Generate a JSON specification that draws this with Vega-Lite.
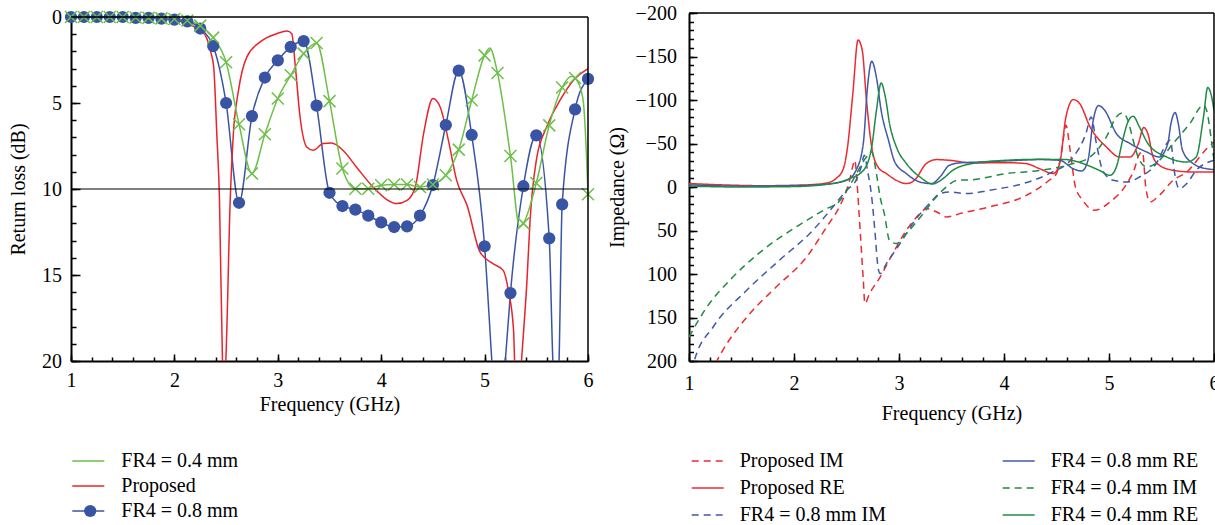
{
  "$schema": "https://vega.github.io/schema/vega-lite/v6.json",
  "background": "white",
  "padding": {"left": 8, "top": 3, "right": 0, "bottom": 0},
  "config": {
    "font": "Liberation Serif",
    "view": {"stroke": null},
    "axis": {"labelFont": "Liberation Serif", "titleFont": "Liberation Serif", "labelFontSize": 20, "titleFontSize": 20, "titleFontWeight": "normal", "labelColor": "black", "titleColor": "black", "domainColor": "black", "domainWidth": 2, "tickColor": "black", "tickWidth": 1.5, "grid": false, "labelFlush": false, "labelOverlap": false},
    "legend": {"labelFont": "Liberation Serif", "labelFontSize": 20, "labelColor": "black", "padding": 0}
  },
  "datasets": {
    "leftLines": [
      {"f":1.0,"v":0,"s":"FR4 = 0.8 mm"},{"f":1.125,"v":0,"s":"FR4 = 0.8 mm"},{"f":1.25,"v":0,"s":"FR4 = 0.8 mm"},{"f":1.375,"v":0,"s":"FR4 = 0.8 mm"},{"f":1.5,"v":0,"s":"FR4 = 0.8 mm"},{"f":1.625,"v":0.05,"s":"FR4 = 0.8 mm"},{"f":1.75,"v":0.05,"s":"FR4 = 0.8 mm"},{"f":1.875,"v":0.1,"s":"FR4 = 0.8 mm"},{"f":2.0,"v":0.15,"s":"FR4 = 0.8 mm"},{"f":2.125,"v":0.25,"s":"FR4 = 0.8 mm"},{"f":2.25,"v":0.67,"s":"FR4 = 0.8 mm"},{"f":2.375,"v":1.69,"s":"FR4 = 0.8 mm"},{"f":2.5,"v":5.0,"s":"FR4 = 0.8 mm"},{"f":2.625,"v":10.8,"s":"FR4 = 0.8 mm"},{"f":2.75,"v":5.76,"s":"FR4 = 0.8 mm"},{"f":2.875,"v":3.52,"s":"FR4 = 0.8 mm"},{"f":3.0,"v":2.52,"s":"FR4 = 0.8 mm"},{"f":3.125,"v":1.74,"s":"FR4 = 0.8 mm"},{"f":3.25,"v":1.4,"s":"FR4 = 0.8 mm"},{"f":3.375,"v":5.15,"s":"FR4 = 0.8 mm"},{"f":3.5,"v":10.22,"s":"FR4 = 0.8 mm"},{"f":3.625,"v":10.99,"s":"FR4 = 0.8 mm"},{"f":3.75,"v":11.2,"s":"FR4 = 0.8 mm"},{"f":3.875,"v":11.55,"s":"FR4 = 0.8 mm"},{"f":4.0,"v":11.94,"s":"FR4 = 0.8 mm"},{"f":4.125,"v":12.21,"s":"FR4 = 0.8 mm"},{"f":4.25,"v":12.17,"s":"FR4 = 0.8 mm"},{"f":4.375,"v":11.55,"s":"FR4 = 0.8 mm"},{"f":4.5,"v":9.77,"s":"FR4 = 0.8 mm"},{"f":4.625,"v":6.28,"s":"FR4 = 0.8 mm"},{"f":4.75,"v":3.12,"s":"FR4 = 0.8 mm"},{"f":4.875,"v":6.86,"s":"FR4 = 0.8 mm"},{"f":5.0,"v":13.33,"s":"FR4 = 0.8 mm"},{"f":5.07,"v":20,"s":"FR4 = 0.8 mm"},{"f":5.135,"v":26,"s":"FR4 = 0.8 mm"},{"f":5.2,"v":20,"s":"FR4 = 0.8 mm"},{"f":5.25,"v":16.05,"s":"FR4 = 0.8 mm"},{"f":5.375,"v":9.84,"s":"FR4 = 0.8 mm"},{"f":5.5,"v":6.88,"s":"FR4 = 0.8 mm"},{"f":5.625,"v":12.87,"s":"FR4 = 0.8 mm"},{"f":5.66,"v":20,"s":"FR4 = 0.8 mm"},{"f":5.69,"v":23,"s":"FR4 = 0.8 mm"},{"f":5.72,"v":20,"s":"FR4 = 0.8 mm"},{"f":5.75,"v":10.89,"s":"FR4 = 0.8 mm"},{"f":5.875,"v":5.37,"s":"FR4 = 0.8 mm"},{"f":6.0,"v":3.6,"s":"FR4 = 0.8 mm"},
      {"f":1.0,"v":0,"s":"Proposed"},{"f":1.5,"v":0,"s":"Proposed"},{"f":1.8,"v":0.05,"s":"Proposed"},{"f":2.0,"v":0.15,"s":"Proposed"},{"f":2.12,"v":0.4,"s":"Proposed"},{"f":2.25,"v":0.77,"s":"Proposed"},{"f":2.31,"v":1.2,"s":"Proposed"},{"f":2.35,"v":2.0,"s":"Proposed"},{"f":2.38,"v":2.9,"s":"Proposed"},{"f":2.41,"v":6.8,"s":"Proposed"},{"f":2.436,"v":10.6,"s":"Proposed"},{"f":2.465,"v":20,"s":"Proposed"},{"f":2.481,"v":21.5,"s":"Proposed"},{"f":2.497,"v":20,"s":"Proposed"},{"f":2.54,"v":10.6,"s":"Proposed"},{"f":2.57,"v":6.8,"s":"Proposed"},{"f":2.62,"v":4.26,"s":"Proposed"},{"f":2.7,"v":2.33,"s":"Proposed"},{"f":2.83,"v":1.45,"s":"Proposed"},{"f":2.99,"v":0.97,"s":"Proposed"},{"f":3.09,"v":0.81,"s":"Proposed"},{"f":3.135,"v":0.97,"s":"Proposed"},{"f":3.17,"v":2.9,"s":"Proposed"},{"f":3.215,"v":5.8,"s":"Proposed"},{"f":3.28,"v":7.56,"s":"Proposed"},{"f":3.34,"v":7.75,"s":"Proposed"},{"f":3.44,"v":7.36,"s":"Proposed"},{"f":3.52,"v":7.33,"s":"Proposed"},{"f":3.63,"v":7.75,"s":"Proposed"},{"f":3.76,"v":8.72,"s":"Proposed"},{"f":3.92,"v":9.88,"s":"Proposed"},{"f":4.05,"v":10.6,"s":"Proposed"},{"f":4.15,"v":10.85,"s":"Proposed"},{"f":4.25,"v":10.66,"s":"Proposed"},{"f":4.33,"v":9.88,"s":"Proposed"},{"f":4.41,"v":6.78,"s":"Proposed"},{"f":4.5,"v":4.74,"s":"Proposed"},{"f":4.57,"v":5.23,"s":"Proposed"},{"f":4.65,"v":7.17,"s":"Proposed"},{"f":4.73,"v":9.5,"s":"Proposed"},{"f":4.83,"v":10.95,"s":"Proposed"},{"f":4.955,"v":13.66,"s":"Proposed"},{"f":5.08,"v":14.34,"s":"Proposed"},{"f":5.18,"v":14.73,"s":"Proposed"},{"f":5.23,"v":15.9,"s":"Proposed"},{"f":5.28,"v":18.2,"s":"Proposed"},{"f":5.29,"v":20,"s":"Proposed"},{"f":5.325,"v":23,"s":"Proposed"},{"f":5.357,"v":20,"s":"Proposed"},{"f":5.41,"v":15.3,"s":"Proposed"},{"f":5.44,"v":11.8,"s":"Proposed"},{"f":5.5,"v":8.33,"s":"Proposed"},{"f":5.6,"v":6.4,"s":"Proposed"},{"f":5.73,"v":4.84,"s":"Proposed"},{"f":5.86,"v":3.68,"s":"Proposed"},{"f":6.0,"v":3.0,"s":"Proposed"},
      {"f":1.0,"v":0,"s":"FR4 = 0.4 mm"},{"f":1.125,"v":0,"s":"FR4 = 0.4 mm"},{"f":1.25,"v":0,"s":"FR4 = 0.4 mm"},{"f":1.375,"v":0,"s":"FR4 = 0.4 mm"},{"f":1.5,"v":0,"s":"FR4 = 0.4 mm"},{"f":1.625,"v":0.03,"s":"FR4 = 0.4 mm"},{"f":1.75,"v":0.05,"s":"FR4 = 0.4 mm"},{"f":1.875,"v":0.08,"s":"FR4 = 0.4 mm"},{"f":2.0,"v":0.12,"s":"FR4 = 0.4 mm"},{"f":2.125,"v":0.2,"s":"FR4 = 0.4 mm"},{"f":2.25,"v":0.5,"s":"FR4 = 0.4 mm"},{"f":2.375,"v":1.2,"s":"FR4 = 0.4 mm"},{"f":2.5,"v":2.63,"s":"FR4 = 0.4 mm"},{"f":2.625,"v":6.24,"s":"FR4 = 0.4 mm"},{"f":2.75,"v":9.1,"s":"FR4 = 0.4 mm"},{"f":2.875,"v":6.82,"s":"FR4 = 0.4 mm"},{"f":3.0,"v":4.74,"s":"FR4 = 0.4 mm"},{"f":3.125,"v":3.39,"s":"FR4 = 0.4 mm"},{"f":3.25,"v":2.13,"s":"FR4 = 0.4 mm"},{"f":3.375,"v":1.51,"s":"FR4 = 0.4 mm"},{"f":3.5,"v":4.89,"s":"FR4 = 0.4 mm"},{"f":3.625,"v":8.81,"s":"FR4 = 0.4 mm"},{"f":3.75,"v":9.98,"s":"FR4 = 0.4 mm"},{"f":3.875,"v":9.98,"s":"FR4 = 0.4 mm"},{"f":4.0,"v":9.78,"s":"FR4 = 0.4 mm"},{"f":4.125,"v":9.74,"s":"FR4 = 0.4 mm"},{"f":4.25,"v":9.74,"s":"FR4 = 0.4 mm"},{"f":4.375,"v":9.88,"s":"FR4 = 0.4 mm"},{"f":4.5,"v":9.74,"s":"FR4 = 0.4 mm"},{"f":4.625,"v":9.2,"s":"FR4 = 0.4 mm"},{"f":4.75,"v":7.71,"s":"FR4 = 0.4 mm"},{"f":4.875,"v":4.84,"s":"FR4 = 0.4 mm"},{"f":5.0,"v":2.23,"s":"FR4 = 0.4 mm"},{"f":5.05,"v":1.8,"s":"FR4 = 0.4 mm"},{"f":5.125,"v":3.26,"s":"FR4 = 0.4 mm"},{"f":5.25,"v":8.08,"s":"FR4 = 0.4 mm"},{"f":5.34,"v":12.2,"s":"FR4 = 0.4 mm"},{"f":5.375,"v":12.0,"s":"FR4 = 0.4 mm"},{"f":5.5,"v":9.65,"s":"FR4 = 0.4 mm"},{"f":5.625,"v":6.3,"s":"FR4 = 0.4 mm"},{"f":5.75,"v":4.1,"s":"FR4 = 0.4 mm"},{"f":5.84,"v":3.45,"s":"FR4 = 0.4 mm"},{"f":5.875,"v":3.55,"s":"FR4 = 0.4 mm"},{"f":5.95,"v":4.7,"s":"FR4 = 0.4 mm"},{"f":5.985,"v":8.0,"s":"FR4 = 0.4 mm"},{"f":6.0,"v":10.3,"s":"FR4 = 0.4 mm"}
    ],
    "blueMarkers": [
      {"f":1.0,"v":0},{"f":1.125,"v":0},{"f":1.25,"v":0},{"f":1.375,"v":0},{"f":1.5,"v":0},{"f":1.625,"v":0.05},{"f":1.75,"v":0.05},{"f":1.875,"v":0.1},{"f":2.0,"v":0.15},{"f":2.125,"v":0.25},{"f":2.25,"v":0.67},{"f":2.375,"v":1.69},{"f":2.5,"v":5.0},{"f":2.625,"v":10.8},{"f":2.75,"v":5.76},{"f":2.875,"v":3.52},{"f":3.0,"v":2.52},{"f":3.125,"v":1.74},{"f":3.25,"v":1.4},{"f":3.375,"v":5.15},{"f":3.5,"v":10.22},{"f":3.625,"v":10.99},{"f":3.75,"v":11.2},{"f":3.875,"v":11.55},{"f":4.0,"v":11.94},{"f":4.125,"v":12.21},{"f":4.25,"v":12.17},{"f":4.375,"v":11.55},{"f":4.5,"v":9.77},{"f":4.625,"v":6.28},{"f":4.75,"v":3.12},{"f":4.875,"v":6.86},{"f":5.0,"v":13.33},{"f":5.25,"v":16.05},{"f":5.375,"v":9.84},{"f":5.5,"v":6.88},{"f":5.625,"v":12.87},{"f":5.75,"v":10.89},{"f":5.875,"v":5.37},{"f":6.0,"v":3.6}
    ],
    "greenMarkers": [
      {"f":1.0,"v":0},{"f":1.125,"v":0},{"f":1.25,"v":0},{"f":1.375,"v":0},{"f":1.5,"v":0},{"f":1.625,"v":0.03},{"f":1.75,"v":0.05},{"f":1.875,"v":0.08},{"f":2.0,"v":0.12},{"f":2.125,"v":0.2},{"f":2.25,"v":0.5},{"f":2.375,"v":1.2},{"f":2.5,"v":2.63},{"f":2.625,"v":6.24},{"f":2.75,"v":9.1},{"f":2.875,"v":6.82},{"f":3.0,"v":4.74},{"f":3.125,"v":3.39},{"f":3.25,"v":2.13},{"f":3.375,"v":1.51},{"f":3.5,"v":4.89},{"f":3.625,"v":8.81},{"f":3.75,"v":9.98},{"f":3.875,"v":9.98},{"f":4.0,"v":9.78},{"f":4.125,"v":9.74},{"f":4.25,"v":9.74},{"f":4.375,"v":9.88},{"f":4.5,"v":9.74},{"f":4.625,"v":9.2},{"f":4.75,"v":7.71},{"f":4.875,"v":4.84},{"f":5.0,"v":2.23},{"f":5.125,"v":3.26},{"f":5.25,"v":8.08},{"f":5.375,"v":12.0},{"f":5.5,"v":9.65},{"f":5.625,"v":6.3},{"f":5.75,"v":4.1},{"f":5.875,"v":3.55},{"f":6.0,"v":10.3}
    ],
    "rightLines": [
      {"f":1.2,"v":215,"s":"Proposed IM"},{"f":1.32,"v":188,"s":"Proposed IM"},{"f":1.58,"v":145.5,"s":"Proposed IM"},{"f":1.83,"v":115,"s":"Proposed IM"},{"f":2.12,"v":80.5,"s":"Proposed IM"},{"f":2.31,"v":46,"s":"Proposed IM"},{"f":2.44,"v":21,"s":"Proposed IM"},{"f":2.5,"v":3.8,"s":"Proposed IM"},{"f":2.53,"v":-7.7,"s":"Proposed IM"},{"f":2.56,"v":-24,"s":"Proposed IM"},{"f":2.58,"v":-30.7,"s":"Proposed IM"},{"f":2.6,"v":-5,"s":"Proposed IM"},{"f":2.63,"v":49.8,"s":"Proposed IM"},{"f":2.66,"v":107,"s":"Proposed IM"},{"f":2.675,"v":134,"s":"Proposed IM"},{"f":2.72,"v":122.5,"s":"Proposed IM"},{"f":2.82,"v":103.5,"s":"Proposed IM"},{"f":2.94,"v":76.6,"s":"Proposed IM"},{"f":3.07,"v":49.8,"s":"Proposed IM"},{"f":3.2,"v":30.6,"s":"Proposed IM"},{"f":3.26,"v":24.8,"s":"Proposed IM"},{"f":3.36,"v":28.7,"s":"Proposed IM"},{"f":3.45,"v":34.5,"s":"Proposed IM"},{"f":3.6,"v":30,"s":"Proposed IM"},{"f":3.86,"v":23,"s":"Proposed IM"},{"f":4.18,"v":11.5,"s":"Proposed IM"},{"f":4.43,"v":-7.7,"s":"Proposed IM"},{"f":4.5,"v":-15.4,"s":"Proposed IM"},{"f":4.55,"v":-42,"s":"Proposed IM"},{"f":4.59,"v":-70.9,"s":"Proposed IM"},{"f":4.63,"v":-42,"s":"Proposed IM"},{"f":4.68,"v":0,"s":"Proposed IM"},{"f":4.75,"v":15.3,"s":"Proposed IM"},{"f":4.86,"v":26.8,"s":"Proposed IM"},{"f":5.01,"v":17.2,"s":"Proposed IM"},{"f":5.17,"v":-3.9,"s":"Proposed IM"},{"f":5.24,"v":-20,"s":"Proposed IM"},{"f":5.29,"v":-38,"s":"Proposed IM"},{"f":5.32,"v":-40,"s":"Proposed IM"},{"f":5.35,"v":0,"s":"Proposed IM"},{"f":5.39,"v":17.2,"s":"Proposed IM"},{"f":5.48,"v":9.5,"s":"Proposed IM"},{"f":5.61,"v":-7.7,"s":"Proposed IM"},{"f":5.74,"v":-17.2,"s":"Proposed IM"},{"f":5.93,"v":-44,"s":"Proposed IM"},{"f":6.0,"v":-51.7,"s":"Proposed IM"},
      {"f":1.0,"v":-4,"s":"Proposed RE"},{"f":1.3,"v":-2.5,"s":"Proposed RE"},{"f":1.7,"v":-1.5,"s":"Proposed RE"},{"f":2.0,"v":-2,"s":"Proposed RE"},{"f":2.2,"v":-3,"s":"Proposed RE"},{"f":2.31,"v":-4.6,"s":"Proposed RE"},{"f":2.4,"v":-9.7,"s":"Proposed RE"},{"f":2.47,"v":-21,"s":"Proposed RE"},{"f":2.51,"v":-46,"s":"Proposed RE"},{"f":2.56,"v":-107,"s":"Proposed RE"},{"f":2.61,"v":-169,"s":"Proposed RE"},{"f":2.65,"v":-157,"s":"Proposed RE"},{"f":2.69,"v":-100,"s":"Proposed RE"},{"f":2.74,"v":-46,"s":"Proposed RE"},{"f":2.8,"v":-23,"s":"Proposed RE"},{"f":2.88,"v":-15.4,"s":"Proposed RE"},{"f":2.975,"v":-7.7,"s":"Proposed RE"},{"f":3.07,"v":-3.9,"s":"Proposed RE"},{"f":3.15,"v":-8,"s":"Proposed RE"},{"f":3.26,"v":-27,"s":"Proposed RE"},{"f":3.36,"v":-31.5,"s":"Proposed RE"},{"f":3.48,"v":-30.7,"s":"Proposed RE"},{"f":3.7,"v":-27.6,"s":"Proposed RE"},{"f":4.02,"v":-28,"s":"Proposed RE"},{"f":4.21,"v":-26.9,"s":"Proposed RE"},{"f":4.34,"v":-21,"s":"Proposed RE"},{"f":4.47,"v":-15.4,"s":"Proposed RE"},{"f":4.53,"v":-27,"s":"Proposed RE"},{"f":4.59,"v":-80.5,"s":"Proposed RE"},{"f":4.66,"v":-100.5,"s":"Proposed RE"},{"f":4.72,"v":-96,"s":"Proposed RE"},{"f":4.82,"v":-69,"s":"Proposed RE"},{"f":4.975,"v":-46,"s":"Proposed RE"},{"f":5.1,"v":-34.5,"s":"Proposed RE"},{"f":5.2,"v":-34.5,"s":"Proposed RE"},{"f":5.28,"v":-50,"s":"Proposed RE"},{"f":5.33,"v":-68.3,"s":"Proposed RE"},{"f":5.37,"v":-61.4,"s":"Proposed RE"},{"f":5.42,"v":-34.5,"s":"Proposed RE"},{"f":5.48,"v":-25,"s":"Proposed RE"},{"f":5.61,"v":-19.2,"s":"Proposed RE"},{"f":5.8,"v":-17.2,"s":"Proposed RE"},{"f":6.0,"v":-17.2,"s":"Proposed RE"},
      {"f":1.0,"v":225,"s":"FR4 = 0.8 mm IM"},{"f":1.05,"v":200,"s":"FR4 = 0.8 mm IM"},{"f":1.23,"v":160.9,"s":"FR4 = 0.8 mm IM"},{"f":1.55,"v":118.7,"s":"FR4 = 0.8 mm IM"},{"f":1.86,"v":84.3,"s":"FR4 = 0.8 mm IM"},{"f":2.18,"v":49.8,"s":"FR4 = 0.8 mm IM"},{"f":2.37,"v":23,"s":"FR4 = 0.8 mm IM"},{"f":2.5,"v":3.8,"s":"FR4 = 0.8 mm IM"},{"f":2.59,"v":-7.7,"s":"FR4 = 0.8 mm IM"},{"f":2.64,"v":-23,"s":"FR4 = 0.8 mm IM"},{"f":2.67,"v":-36.4,"s":"FR4 = 0.8 mm IM"},{"f":2.7,"v":-19,"s":"FR4 = 0.8 mm IM"},{"f":2.74,"v":11.5,"s":"FR4 = 0.8 mm IM"},{"f":2.77,"v":49.8,"s":"FR4 = 0.8 mm IM"},{"f":2.8,"v":92,"s":"FR4 = 0.8 mm IM"},{"f":2.82,"v":99.5,"s":"FR4 = 0.8 mm IM"},{"f":2.88,"v":88,"s":"FR4 = 0.8 mm IM"},{"f":3.01,"v":65,"s":"FR4 = 0.8 mm IM"},{"f":3.13,"v":42,"s":"FR4 = 0.8 mm IM"},{"f":3.29,"v":19,"s":"FR4 = 0.8 mm IM"},{"f":3.39,"v":7.6,"s":"FR4 = 0.8 mm IM"},{"f":3.48,"v":5.7,"s":"FR4 = 0.8 mm IM"},{"f":3.64,"v":7.6,"s":"FR4 = 0.8 mm IM"},{"f":3.86,"v":3.8,"s":"FR4 = 0.8 mm IM"},{"f":4.18,"v":-3.9,"s":"FR4 = 0.8 mm IM"},{"f":4.43,"v":-15.4,"s":"FR4 = 0.8 mm IM"},{"f":4.66,"v":-34.5,"s":"FR4 = 0.8 mm IM"},{"f":4.78,"v":-61.4,"s":"FR4 = 0.8 mm IM"},{"f":4.83,"v":-80.5,"s":"FR4 = 0.8 mm IM"},{"f":4.88,"v":-50,"s":"FR4 = 0.8 mm IM"},{"f":4.94,"v":-19,"s":"FR4 = 0.8 mm IM"},{"f":5.04,"v":-7.7,"s":"FR4 = 0.8 mm IM"},{"f":5.17,"v":-5.7,"s":"FR4 = 0.8 mm IM"},{"f":5.29,"v":-11.5,"s":"FR4 = 0.8 mm IM"},{"f":5.45,"v":-27,"s":"FR4 = 0.8 mm IM"},{"f":5.55,"v":-50,"s":"FR4 = 0.8 mm IM"},{"f":5.585,"v":-54,"s":"FR4 = 0.8 mm IM"},{"f":5.62,"v":-20,"s":"FR4 = 0.8 mm IM"},{"f":5.645,"v":-3.9,"s":"FR4 = 0.8 mm IM"},{"f":5.67,"v":1.9,"s":"FR4 = 0.8 mm IM"},{"f":5.74,"v":-3.9,"s":"FR4 = 0.8 mm IM"},{"f":5.83,"v":-19,"s":"FR4 = 0.8 mm IM"},{"f":6.0,"v":-30.7,"s":"FR4 = 0.8 mm IM"},
      {"f":1.0,"v":-2.5,"s":"FR4 = 0.8 mm RE"},{"f":1.5,"v":-1,"s":"FR4 = 0.8 mm RE"},{"f":2.0,"v":-1.5,"s":"FR4 = 0.8 mm RE"},{"f":2.3,"v":-3,"s":"FR4 = 0.8 mm RE"},{"f":2.5,"v":-7.7,"s":"FR4 = 0.8 mm RE"},{"f":2.59,"v":-19,"s":"FR4 = 0.8 mm RE"},{"f":2.66,"v":-50,"s":"FR4 = 0.8 mm RE"},{"f":2.7,"v":-115,"s":"FR4 = 0.8 mm RE"},{"f":2.74,"v":-144.5,"s":"FR4 = 0.8 mm RE"},{"f":2.785,"v":-126,"s":"FR4 = 0.8 mm RE"},{"f":2.83,"v":-88,"s":"FR4 = 0.8 mm RE"},{"f":2.9,"v":-53.7,"s":"FR4 = 0.8 mm RE"},{"f":2.96,"v":-28.7,"s":"FR4 = 0.8 mm RE"},{"f":3.07,"v":-15.4,"s":"FR4 = 0.8 mm RE"},{"f":3.2,"v":-5.7,"s":"FR4 = 0.8 mm RE"},{"f":3.31,"v":-3.9,"s":"FR4 = 0.8 mm RE"},{"f":3.39,"v":-11.5,"s":"FR4 = 0.8 mm RE"},{"f":3.48,"v":-25,"s":"FR4 = 0.8 mm RE"},{"f":3.6,"v":-28,"s":"FR4 = 0.8 mm RE"},{"f":3.7,"v":-28.4,"s":"FR4 = 0.8 mm RE"},{"f":4.02,"v":-30,"s":"FR4 = 0.8 mm RE"},{"f":4.34,"v":-31.5,"s":"FR4 = 0.8 mm RE"},{"f":4.53,"v":-30.7,"s":"FR4 = 0.8 mm RE"},{"f":4.66,"v":-21,"s":"FR4 = 0.8 mm RE"},{"f":4.74,"v":-18.4,"s":"FR4 = 0.8 mm RE"},{"f":4.8,"v":-30.7,"s":"FR4 = 0.8 mm RE"},{"f":4.85,"v":-76.7,"s":"FR4 = 0.8 mm RE"},{"f":4.9,"v":-93.6,"s":"FR4 = 0.8 mm RE"},{"f":4.96,"v":-88,"s":"FR4 = 0.8 mm RE"},{"f":5.07,"v":-61.4,"s":"FR4 = 0.8 mm RE"},{"f":5.2,"v":-50,"s":"FR4 = 0.8 mm RE"},{"f":5.36,"v":-40.2,"s":"FR4 = 0.8 mm RE"},{"f":5.48,"v":-34.5,"s":"FR4 = 0.8 mm RE"},{"f":5.56,"v":-50,"s":"FR4 = 0.8 mm RE"},{"f":5.59,"v":-72.9,"s":"FR4 = 0.8 mm RE"},{"f":5.63,"v":-85.5,"s":"FR4 = 0.8 mm RE"},{"f":5.66,"v":-72.9,"s":"FR4 = 0.8 mm RE"},{"f":5.7,"v":-42.2,"s":"FR4 = 0.8 mm RE"},{"f":5.8,"v":-27,"s":"FR4 = 0.8 mm RE"},{"f":5.93,"v":-21,"s":"FR4 = 0.8 mm RE"},{"f":6.0,"v":-20,"s":"FR4 = 0.8 mm RE"},
      {"f":1.0,"v":172.4,"s":"FR4 = 0.4 mm IM"},{"f":1.17,"v":138,"s":"FR4 = 0.4 mm IM"},{"f":1.39,"v":107,"s":"FR4 = 0.4 mm IM"},{"f":1.7,"v":72.8,"s":"FR4 = 0.4 mm IM"},{"f":2.02,"v":46,"s":"FR4 = 0.4 mm IM"},{"f":2.28,"v":26.8,"s":"FR4 = 0.4 mm IM"},{"f":2.44,"v":15.3,"s":"FR4 = 0.4 mm IM"},{"f":2.56,"v":-7.7,"s":"FR4 = 0.4 mm IM"},{"f":2.69,"v":-34.5,"s":"FR4 = 0.4 mm IM"},{"f":2.74,"v":-40.2,"s":"FR4 = 0.4 mm IM"},{"f":2.785,"v":-15.4,"s":"FR4 = 0.4 mm IM"},{"f":2.82,"v":11.5,"s":"FR4 = 0.4 mm IM"},{"f":2.86,"v":30.6,"s":"FR4 = 0.4 mm IM"},{"f":2.91,"v":61.3,"s":"FR4 = 0.4 mm IM"},{"f":2.975,"v":65,"s":"FR4 = 0.4 mm IM"},{"f":3.07,"v":53.6,"s":"FR4 = 0.4 mm IM"},{"f":3.23,"v":30.6,"s":"FR4 = 0.4 mm IM"},{"f":3.35,"v":12,"s":"FR4 = 0.4 mm IM"},{"f":3.45,"v":0,"s":"FR4 = 0.4 mm IM"},{"f":3.55,"v":-7.7,"s":"FR4 = 0.4 mm IM"},{"f":3.7,"v":-8.4,"s":"FR4 = 0.4 mm IM"},{"f":4.02,"v":-15.4,"s":"FR4 = 0.4 mm IM"},{"f":4.34,"v":-19,"s":"FR4 = 0.4 mm IM"},{"f":4.66,"v":-27,"s":"FR4 = 0.4 mm IM"},{"f":4.82,"v":-34.5,"s":"FR4 = 0.4 mm IM"},{"f":4.975,"v":-57.5,"s":"FR4 = 0.4 mm IM"},{"f":5.07,"v":-80.5,"s":"FR4 = 0.4 mm IM"},{"f":5.13,"v":-85,"s":"FR4 = 0.4 mm IM"},{"f":5.18,"v":-76.7,"s":"FR4 = 0.4 mm IM"},{"f":5.23,"v":-53.7,"s":"FR4 = 0.4 mm IM"},{"f":5.29,"v":-30.7,"s":"FR4 = 0.4 mm IM"},{"f":5.36,"v":-23,"s":"FR4 = 0.4 mm IM"},{"f":5.48,"v":-30.7,"s":"FR4 = 0.4 mm IM"},{"f":5.61,"v":-50,"s":"FR4 = 0.4 mm IM"},{"f":5.77,"v":-72.9,"s":"FR4 = 0.4 mm IM"},{"f":5.9,"v":-94,"s":"FR4 = 0.4 mm IM"},{"f":5.93,"v":-88,"s":"FR4 = 0.4 mm IM"},{"f":5.975,"v":-53.7,"s":"FR4 = 0.4 mm IM"},{"f":6.0,"v":-30.7,"s":"FR4 = 0.4 mm IM"},
      {"f":1.0,"v":-1,"s":"FR4 = 0.4 mm RE"},{"f":1.5,"v":0,"s":"FR4 = 0.4 mm RE"},{"f":2.0,"v":-0.5,"s":"FR4 = 0.4 mm RE"},{"f":2.3,"v":-3,"s":"FR4 = 0.4 mm RE"},{"f":2.53,"v":-9.7,"s":"FR4 = 0.4 mm RE"},{"f":2.66,"v":-19,"s":"FR4 = 0.4 mm RE"},{"f":2.74,"v":-46,"s":"FR4 = 0.4 mm RE"},{"f":2.785,"v":-88,"s":"FR4 = 0.4 mm RE"},{"f":2.83,"v":-119.5,"s":"FR4 = 0.4 mm RE"},{"f":2.87,"v":-103.4,"s":"FR4 = 0.4 mm RE"},{"f":2.91,"v":-72.9,"s":"FR4 = 0.4 mm RE"},{"f":2.975,"v":-46,"s":"FR4 = 0.4 mm RE"},{"f":3.07,"v":-27,"s":"FR4 = 0.4 mm RE"},{"f":3.2,"v":-11.5,"s":"FR4 = 0.4 mm RE"},{"f":3.32,"v":-3.5,"s":"FR4 = 0.4 mm RE"},{"f":3.42,"v":-9.7,"s":"FR4 = 0.4 mm RE"},{"f":3.51,"v":-19,"s":"FR4 = 0.4 mm RE"},{"f":3.7,"v":-27,"s":"FR4 = 0.4 mm RE"},{"f":4.02,"v":-30.7,"s":"FR4 = 0.4 mm RE"},{"f":4.34,"v":-31.8,"s":"FR4 = 0.4 mm RE"},{"f":4.59,"v":-31.5,"s":"FR4 = 0.4 mm RE"},{"f":4.75,"v":-27,"s":"FR4 = 0.4 mm RE"},{"f":4.91,"v":-19,"s":"FR4 = 0.4 mm RE"},{"f":5.01,"v":-13.4,"s":"FR4 = 0.4 mm RE"},{"f":5.07,"v":-23,"s":"FR4 = 0.4 mm RE"},{"f":5.13,"v":-53.7,"s":"FR4 = 0.4 mm RE"},{"f":5.18,"v":-74.7,"s":"FR4 = 0.4 mm RE"},{"f":5.23,"v":-81.3,"s":"FR4 = 0.4 mm RE"},{"f":5.29,"v":-69,"s":"FR4 = 0.4 mm RE"},{"f":5.37,"v":-50,"s":"FR4 = 0.4 mm RE"},{"f":5.55,"v":-34.5,"s":"FR4 = 0.4 mm RE"},{"f":5.74,"v":-28.7,"s":"FR4 = 0.4 mm RE"},{"f":5.83,"v":-34.5,"s":"FR4 = 0.4 mm RE"},{"f":5.9,"v":-80.5,"s":"FR4 = 0.4 mm RE"},{"f":5.94,"v":-114.3,"s":"FR4 = 0.4 mm RE"},{"f":5.975,"v":-105,"s":"FR4 = 0.4 mm RE"},{"f":6.0,"v":-88,"s":"FR4 = 0.4 mm RE"}
    ]
  },
  "bounds": "flush",
  "spacing": 101,
  "resolve": {"scale": {"color": "independent", "strokeDash": "independent", "shape": "independent"}, "legend": {"color": "independent", "strokeDash": "independent", "shape": "independent"}},
  "hconcat": [
    {
      "width": 517,
      "height": 348,
      "resolve": {"axis": {"x": "independent", "y": "independent"}},
      "layer": [
        {
          "data": {"name": "leftLines"},
          "mark": {"type": "line", "interpolate": "monotone", "strokeWidth": 1.5, "clip": true},
          "encoding": {
            "x": {"field": "f", "type": "quantitative", "title": "Frequency (GHz)",
              "scale": {"domain": [1, 6], "nice": false, "zero": false},
              "axis": {"orient": "bottom", "values": [1, 2, 3, 4, 5, 6], "format": "d", "ticks": false, "labelOverlap": false, "labelPadding": 9, "titlePadding": 4.5}},
            "y": {"field": "v", "type": "quantitative", "title": "Return loss (dB)",
              "scale": {"domain": [0, 20], "range": [4, 348], "nice": false, "zero": false},
              "axis": {"orient": "left", "values": [0, 5, 10, 15, 20], "format": "d", "ticks": false, "labelOverlap": false, "labelPadding": 9.5, "titlePadding": 13}},
            "color": {"field": "s", "type": "nominal",
              "scale": {"domain": ["FR4 = 0.4 mm", "Proposed", "FR4 = 0.8 mm"], "range": ["#6dbf4a", "#e8232b", "#3a54a4"]},
              "legend": {"title": null, "orient": "none", "legendX": 7.3, "legendY": 438, "symbolType": "M-2,0L2,0", "symbolSize": 256, "symbolStrokeWidth": 1.5, "labelOffset": 23, "rowPadding": 5, "labelFontSize": 20}}
          }
        },
        {
          "data": {"name": "blueMarkers"},
          "mark": {"type": "point", "filled": true, "size": 150, "color": "#3a54a4", "opacity": 1},
          "encoding": {"x": {"field": "f", "type": "quantitative", "axis": null}, "y": {"field": "v", "type": "quantitative", "axis": null},
            "shape": {"datum": "FR4 = 0.8 mm", "scale": {"domain": ["FR4 = 0.8 mm"], "range": ["circle"]},
              "legend": {"title": null, "orient": "none", "legendX": 9.2, "legendY": 488, "symbolSize": 150, "labelExpr": "''", "labelFontSize": 20, "symbolFillColor": "#3a54a4", "symbolStrokeColor": "#3a54a4", "symbolOpacity": 1}}}
        },
        {
          "data": {"name": "greenMarkers"},
          "mark": {"type": "point", "shape": "M-1,-1L1,1M-1,1L1,-1", "filled": false, "size": 144, "color": "#6dbf4a", "strokeWidth": 1.5, "opacity": 1},
          "encoding": {"x": {"field": "f", "type": "quantitative", "axis": null}, "y": {"field": "v", "type": "quantitative", "axis": null}}
        },
        {
          "data": {"values": [{}]},
          "mark": {"type": "rule", "color": "black", "strokeWidth": 1.2},
          "encoding": {"y": {"datum": 10, "type": "quantitative", "axis": null}}
        },
        {
          "data": {"values": [{}]},
          "mark": {"type": "rule", "color": "black", "strokeWidth": 1.5},
          "encoding": {
            "x": {"datum": 1, "type": "quantitative", "axis": {"orient": "bottom", "offset": -4, "domain": false, "labels": false, "title": null, "ticks": true, "tickSize": 4, "values": [1,1.2,1.4,1.6,1.8,2,2.2,2.4,2.6,2.8,3,3.2,3.4,3.6,3.8,4,4.2,4.4,4.6,4.8,5,5.2,5.4,5.6,5.8,6]}},
            "x2": {"datum": 6},
            "y": {"datum": 0, "type": "quantitative", "axis": {"orient": "left", "offset": -5, "domain": false, "labels": false, "title": null, "ticks": true, "tickSize": 5, "values": [0,1,2,3,4,5,6,7,8,9,10,11,12,13,14,15,16,17,18,19,20]}}
          }
        },
        {
          "data": {"values": [{}]},
          "mark": {"type": "rule", "color": "black", "strokeWidth": 1.5},
          "encoding": {
            "x": {"datum": 6, "type": "quantitative", "axis": {"orient": "bottom", "offset": -7, "domain": false, "labels": false, "title": null, "ticks": true, "tickSize": 7, "values": [1, 2, 3, 4, 5, 6]}},
            "y": {"datum": 0, "type": "quantitative", "axis": {"orient": "left", "offset": -9, "domain": false, "labels": false, "title": null, "ticks": true, "tickSize": 9, "values": [0, 5, 10, 15, 20]}},
            "y2": {"datum": 20}
          }
        }
      ]
    },
    {
      "width": 525,
      "height": 348,
      "resolve": {"axis": {"x": "independent", "y": "independent"}},
      "layer": [
        {
          "data": {"name": "rightLines"},
          "mark": {"type": "line", "interpolate": "monotone", "strokeWidth": 1.5, "clip": true},
          "encoding": {
            "x": {"field": "f", "type": "quantitative", "title": "Frequency (GHz)",
              "scale": {"domain": [1, 6], "nice": false, "zero": false},
              "axis": {"orient": "bottom", "values": [1, 2, 3, 4, 5, 6], "format": "d", "ticks": false, "labelOverlap": false, "labelPadding": 12, "titlePadding": 10}},
            "y": {"field": "v", "type": "quantitative", "title": "Impedance (Ω)",
              "scale": {"domain": [-200, 200], "range": [0, 348], "nice": false, "zero": false},
              "axis": {"orient": "left", "values": [-200, -150, -100, -50, 0, 50, 100, 150, 200], "format": "d", "ticks": false, "labelOverlap": false, "labelPadding": 12.6, "titlePadding": 7.5}},
            "color": {"field": "s", "type": "nominal",
              "scale": {"domain": ["Proposed IM", "Proposed RE", "FR4 = 0.8 mm IM", "FR4 = 0.8 mm RE", "FR4 = 0.4 mm IM", "FR4 = 0.4 mm RE"], "range": ["#ec2a30", "#ec2a30", "#3f58a7", "#3f58a7", "#1f8a45", "#1f8a45"]},
              "legend": {"title": null, "orient": "none", "legendX": 8.7, "legendY": 438, "columns": 2, "columnPadding": 113, "symbolType": "M-2,0L2,0", "symbolSize": 256, "symbolStrokeWidth": 1.5, "labelOffset": 22, "rowPadding": 7, "labelFontSize": 20}},
            "strokeDash": {"field": "s", "type": "nominal",
              "scale": {"domain": ["Proposed IM", "Proposed RE", "FR4 = 0.8 mm IM", "FR4 = 0.8 mm RE", "FR4 = 0.4 mm IM", "FR4 = 0.4 mm RE"], "range": [[7, 5], [1, 0], [7, 5], [1, 0], [7, 5], [1, 0]]},
              "legend": {"title": null, "orient": "none", "legendX": 8.7, "legendY": 438, "columns": 2, "columnPadding": 113, "symbolType": "M-2,0L2,0", "symbolSize": 256, "symbolStrokeWidth": 1.5, "labelOffset": 22, "rowPadding": 7, "labelFontSize": 20}}
          }
        },
        {
          "data": {"values": [{}]},
          "mark": {"type": "rule", "color": "black", "strokeWidth": 1.5},
          "encoding": {
            "x": {"datum": 1, "type": "quantitative", "axis": {"orient": "bottom", "offset": -4, "domain": false, "labels": false, "title": null, "ticks": true, "tickSize": 4, "values": [1,1.2,1.4,1.6,1.8,2,2.2,2.4,2.6,2.8,3,3.2,3.4,3.6,3.8,4,4.2,4.4,4.6,4.8,5,5.2,5.4,5.6,5.8,6]}},
            "x2": {"datum": 6},
            "y": {"datum": -200, "type": "quantitative", "axis": {"orient": "left", "offset": -4.5, "domain": false, "labels": false, "title": null, "ticks": true, "tickSize": 4.5, "values": [-200,-190,-180,-170,-160,-150,-140,-130,-120,-110,-100,-90,-80,-70,-60,-50,-40,-30,-20,-10,0,10,20,30,40,50,60,70,80,90,100,110,120,130,140,150,160,170,180,190,200]}}
          }
        },
        {
          "data": {"values": [{}]},
          "mark": {"type": "rule", "color": "black", "strokeWidth": 1.5},
          "encoding": {
            "x": {"datum": 6, "type": "quantitative", "axis": {"orient": "bottom", "offset": -8, "domain": false, "labels": false, "title": null, "ticks": true, "tickSize": 8, "values": [1, 2, 3, 4, 5, 6]}},
            "y": {"datum": -200, "type": "quantitative", "axis": {"orient": "left", "offset": -8, "domain": false, "labels": false, "title": null, "ticks": true, "tickSize": 8, "values": [-200, -150, -100, -50, 0, 50, 100, 150, 200]}},
            "y2": {"datum": 200}
          }
        }
      ]
    }
  ]
}
